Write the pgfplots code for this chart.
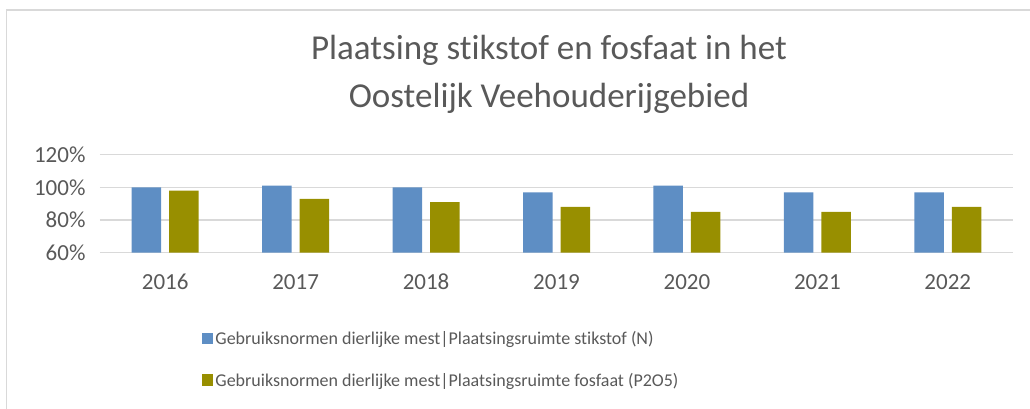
\documentclass[border=0pt]{standalone}
\usepackage{fontspec}
\setmainfont{Carlito}[Ligatures=NoCommon]
\usepackage{pgfplots}
\pgfplotsset{compat=1.18}
\definecolor{barblue}{RGB}{94,142,196}
\definecolor{barolive}{RGB}{152,143,0}
\definecolor{txtgray}{RGB}{89,89,89}
\definecolor{gridgray}{RGB}{217,217,217}
\begin{document}
\begin{tikzpicture}
\useasboundingbox (-100pt,-155.3pt) rectangle (930pt,252.7pt);
\draw[gridgray,line width=1.5pt] (-93.3pt,-160pt) -- (-93.3pt,242.7pt) -- (935pt,242.7pt);
\node[anchor=base,txtgray,font=\fontsize{35}{42}\selectfont] at (449pt,193.7pt) {Plaatsing stikstof en fosfaat in het};
\node[anchor=base,txtgray,font=\fontsize{35}{42}\selectfont] at (449pt,145.7pt) {Oostelijk Veehouderijgebied};
\begin{axis}[
  at={(0pt,0pt)}, anchor=south west,
  scale only axis, width=913pt, height=98pt,
  xmin=-0.5, xmax=6.5, ymin=60, ymax=120,
  xtick={0,1,2,3,4,5,6},
  xticklabels={2016,2017,2018,2019,2020,2021,2022},
  ytick={60,80,100,120},
  yticklabels={60\%,80\%,100\%,120\%},
  ymajorgrids, grid style={gridgray,line width=1.2pt},
  axis line style={draw=none},
  major tick length=0pt,
  tick label style={txtgray,font=\fontsize{23}{27}\selectfont},
  xticklabel style={yshift=-18pt},
  yticklabel style={xshift=-11pt},
  legend style={draw=none, fill=none, at={(axis description cs:0.1114,-0.78)}, anchor=north west,
    font=\fontsize{18}{22}\selectfont, text=txtgray, row sep=23pt, inner sep=0pt,
    /tikz/every even column/.append style={column sep=3pt}},
  legend cell align=left,
  legend image code/.code={\fill[#1] (0pt,-5.5pt) rectangle (11.5pt,6pt);},
]
\addplot[ybar, bar width=29.5pt, bar shift=-18.75pt, fill=barblue, draw=none] coordinates {
(0,100) (1,101) (2,100) (3,97) (4,101) (5,97) (6,97)};
\addlegendentry{Gebruiksnormen dierlijke mest|Plaatsingsruimte stikstof (N)}
\addplot[ybar, bar width=29.5pt, bar shift=18.75pt, fill=barolive, draw=none] coordinates {
(0,98) (1,93) (2,91) (3,88) (4,85) (5,85) (6,88)};
\addlegendentry{Gebruiksnormen dierlijke mest|Plaatsingsruimte fosfaat (P2O5)}
\end{axis}
\end{tikzpicture}
\end{document}
